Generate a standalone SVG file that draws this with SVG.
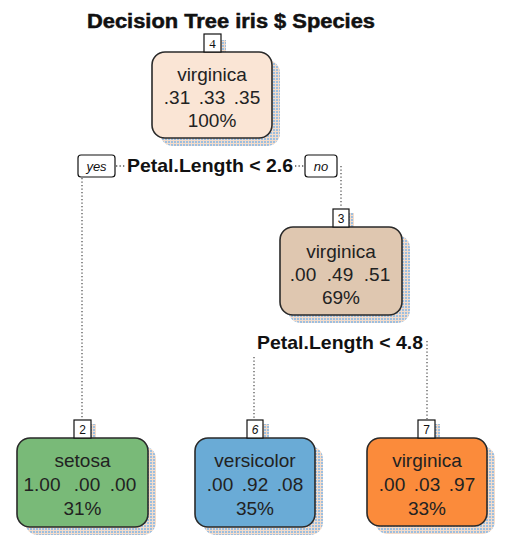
<svg xmlns="http://www.w3.org/2000/svg" width="509" height="544" viewBox="0 0 509 544">
<defs>
<pattern id="dith" width="3" height="3" patternUnits="userSpaceOnUse">
<rect width="3" height="3" fill="#F3DCCB"/>
<rect width="2" height="2" fill="#9DBFE0"/>
</pattern>
<style>
.title{font-family:"Liberation Sans",Arial,sans-serif;font-weight:bold;font-size:20px;fill:#111;stroke:#111;stroke-width:0.5}
.nt{font-family:"Liberation Sans",Arial,sans-serif;font-size:19px;fill:#222;text-anchor:middle}
.split{font-family:"Liberation Sans",Arial,sans-serif;font-weight:bold;font-size:18.5px;fill:#111}
.yn{font-family:"Liberation Sans",Arial,sans-serif;font-style:italic;font-size:13px;fill:#111;text-anchor:middle}
.num{font-family:"Liberation Sans",Arial,sans-serif;font-size:12px;fill:#111;text-anchor:middle}
.numS{font-family:"Liberation Serif","Times New Roman",serif;font-size:13px;fill:#111;text-anchor:middle}
.box{stroke:#2a2a2a;stroke-width:1.6}
.shadow{fill:url(#dith)}
.lab{fill:#fff;stroke:#111;stroke-width:1.2}
.dot{stroke:#555;stroke-width:1.3;stroke-dasharray:1.3 2.2;fill:none}
</style>
</defs>
<text class="title" x="87" y="28" textLength="288" lengthAdjust="spacingAndGlyphs">Decision Tree iris $ Species</text>

<g id="connectors">
<line class="dot" x1="116" y1="166" x2="126" y2="166"/>
<line class="dot" x1="295" y1="166" x2="304" y2="166"/>
<line class="dot" x1="82" y1="178" x2="82" y2="419"/>
<line class="dot" x1="341" y1="166" x2="341" y2="208"/>
<line class="dot" x1="254" y1="357" x2="254" y2="419"/>
<line class="dot" x1="427" y1="341" x2="427" y2="419"/>
</g>

<g id="split1">
<rect x="78" y="155" width="37" height="22" rx="3" class="lab"/>
<text class="yn" x="96.5" y="171">yes</text>
<text class="split" x="127" y="172" textLength="166" lengthAdjust="spacingAndGlyphs">Petal.Length &lt; 2.6</text>
<rect x="305" y="155" width="32" height="22" rx="3" class="lab"/>
<text class="yn" x="321" y="171">no</text>
</g>

<g id="split2">
<text class="split" x="257" y="349" textLength="166" lengthAdjust="spacingAndGlyphs">Petal.Length &lt; 4.8</text>
</g>

<g id="node4">
<rect x="160" y="60" width="120" height="86" rx="13" class="shadow"/>
<rect x="209" y="40" width="17" height="14" class="shadow"/>
<rect x="152" y="52" width="120" height="86" rx="13" fill="#FAE5D5" class="box"/>
<rect x="204" y="34" width="17" height="18" class="lab"/>
<text class="numS" x="212.5" y="48">4</text>
<text class="nt" x="212" y="81">virginica</text>
<text class="nt" y="104"><tspan x="177">.31</tspan><tspan x="212">.33</tspan><tspan x="247">.35</tspan></text>
<text class="nt" x="212" y="127">100%</text>
</g>

<g id="node3">
<rect x="288" y="235" width="122" height="88" rx="13" class="shadow"/>
<rect x="337" y="213" width="17" height="15" class="shadow"/>
<rect x="280" y="227" width="122" height="88" rx="13" fill="#DFC7B0" class="box"/>
<rect x="333" y="209" width="16" height="18" class="lab"/>
<text class="num" x="341" y="223">3</text>
<text class="nt" x="341" y="258">virginica</text>
<text class="nt" y="281"><tspan x="303">.00</tspan><tspan x="340">.49</tspan><tspan x="377">.51</tspan></text>
<text class="nt" x="341" y="304">69%</text>
</g>

<g id="node2">
<rect x="25" y="446" width="131" height="89" rx="13" class="shadow"/>
<rect x="79" y="424" width="17" height="15" class="shadow"/>
<rect x="17" y="438" width="131" height="89" rx="13" fill="#79BA78" class="box"/>
<rect x="74" y="420" width="17" height="18" class="lab"/>
<text class="num" x="82.5" y="434">2</text>
<text class="nt" x="82.5" y="467">setosa</text>
<text class="nt" y="491"><tspan x="42">1.00</tspan><tspan x="87">.00</tspan><tspan x="123">.00</tspan></text>
<text class="nt" x="82.5" y="515">31%</text>
</g>

<g id="node6">
<rect x="203" y="446" width="120" height="89" rx="13" class="shadow"/>
<rect x="252" y="424" width="17" height="15" class="shadow"/>
<rect x="195" y="438" width="120" height="89" rx="13" fill="#6AABD6" class="box"/>
<rect x="247" y="420" width="16" height="18" class="lab"/>
<text class="num" x="255" y="434" font-style="italic">6</text>
<text class="nt" x="255" y="467">versicolor</text>
<text class="nt" y="491"><tspan x="220">.00</tspan><tspan x="255">.92</tspan><tspan x="290">.08</tspan></text>
<text class="nt" x="255" y="515">35%</text>
</g>

<g id="node7">
<rect x="375" y="446" width="120" height="88" rx="13" class="shadow"/>
<rect x="423" y="424" width="17" height="15" class="shadow"/>
<rect x="367" y="438" width="120" height="88" rx="13" fill="#FB8B3B" class="box"/>
<rect x="418" y="420" width="17" height="18" class="lab"/>
<text class="num" x="426.5" y="434">7</text>
<text class="nt" x="427" y="467">virginica</text>
<text class="nt" y="491"><tspan x="392">.00</tspan><tspan x="427">.03</tspan><tspan x="462">.97</tspan></text>
<text class="nt" x="427" y="515">33%</text>
</g>
</svg>
